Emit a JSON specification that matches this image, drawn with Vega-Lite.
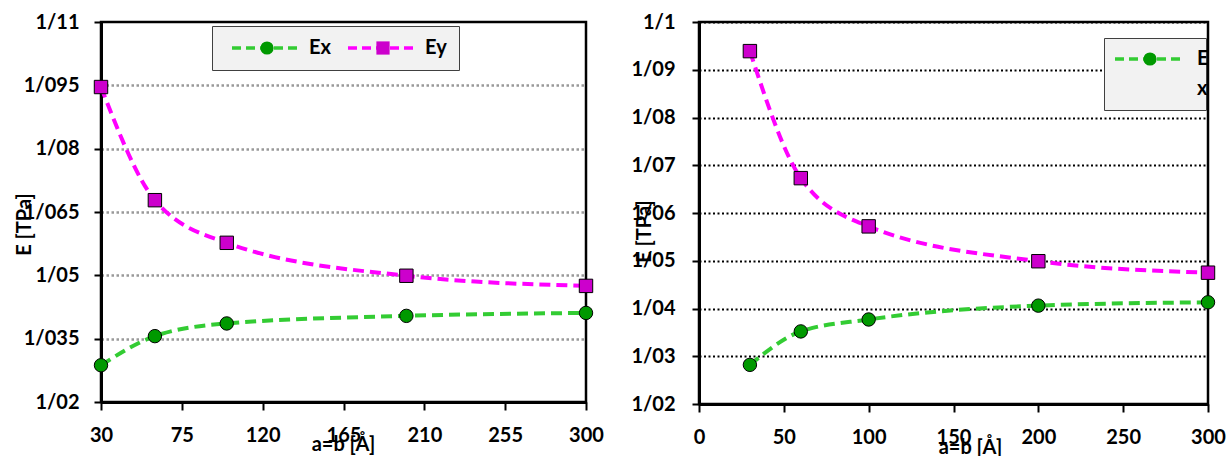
{
  "$schema": "https://vega.github.io/schema/vega-lite/v6.json",
  "padding": {"left": 12, "top": 10, "right": 5, "bottom": 0},
  "autosize": {"type": "pad"},
  "bounds": "flush",
  "spacing": 113,
  "resolve": {
    "scale": {"stroke": "independent", "fill": "independent", "shape": "independent"},
    "legend": {"stroke": "independent", "fill": "independent", "shape": "independent"}
  },
  "datasets": {
    "left": [
      {"a": 30, "E": 1.0287, "series": "Ex"},
      {"a": 60, "E": 1.0356, "series": "Ex"},
      {"a": 100, "E": 1.0386, "series": "Ex"},
      {"a": 200, "E": 1.0404, "series": "Ex"},
      {"a": 300, "E": 1.0411, "series": "Ex"},
      {"a": 30, "E": 1.0946, "series": "Ey"},
      {"a": 60, "E": 1.0678, "series": "Ey"},
      {"a": 100, "E": 1.0577, "series": "Ey"},
      {"a": 200, "E": 1.0499, "series": "Ey"},
      {"a": 300, "E": 1.0475, "series": "Ey"}
    ],
    "right": [
      {"a": 30, "E": 1.0282, "series": "Ex"},
      {"a": 60, "E": 1.0352, "series": "Ex"},
      {"a": 100, "E": 1.0377, "series": "Ex"},
      {"a": 200, "E": 1.0406, "series": "Ex"},
      {"a": 300, "E": 1.0413, "series": "Ex"},
      {"a": 30, "E": 1.0939, "series": "Ey"},
      {"a": 60, "E": 1.0673, "series": "Ey"},
      {"a": 100, "E": 1.0572, "series": "Ey"},
      {"a": 200, "E": 1.0499, "series": "Ey"},
      {"a": 300, "E": 1.0475, "series": "Ey"}
    ]
  },
  "hconcat": [
    {
      "width": 485,
      "height": 380,
      "data": {"name": "left"},
      "layer": [
        {
          "mark": {"type": "line", "interpolate": "monotone", "strokeDash": [11, 6], "strokeWidth": 4},
          "encoding": {
            "x": {
              "field": "a", "type": "quantitative",
              "scale": {"domain": [30, 300], "nice": false, "zero": false},
              "axis": {
                "title": "a=b [Å]", "values": [30, 75, 120, 165, 210, 255, 300],
                "grid": false, "tickSize": 8, "labelPadding": 15, "labelFlush": false, "labelOverlap": false,
                "titleX": 242, "titleY": 42, "titleBaseline": "middle", "titleAlign": "center"
              }
            },
            "y": {
              "field": "E", "type": "quantitative",
              "scale": {"domain": [1.02, 1.11], "nice": false, "zero": false},
              "axis": {
                "title": "E [TPa]", "values": [1.02, 1.035, 1.05, 1.065, 1.08, 1.095, 1.11],
                "labelExpr": "replace(toString(datum.value), '.', '/')",
                "tickSize": 7, "labelPadding": 15, "labelOverlap": false, "labelFlush": false,
                "grid": true, "gridColor": "#999999", "gridDash": [2.5, 2.5], "gridWidth": 2.5,
                "gridOpacity": {"condition": {"test": "datum.value < 1.021 || datum.value > 1.109", "value": 0}, "value": 1},
                "titleX": -77, "titleY": 202, "titleAngle": 270, "titleBaseline": "middle", "titleAlign": "center"
              }
            },
            "stroke": {
              "field": "series", "type": "nominal",
              "scale": {"domain": ["Ex", "Ey"], "range": ["#33cc33", "#ff00ff"]},
              "legend": {
                "title": null, "orient": "none", "legendX": 111, "legendY": 4, "direction": "horizontal",
                "fillColor": "#f2f2f2", "strokeColor": "#404040", "padding": 12,
                "symbolType": "M-5,0H5", "symbolSize": 196, "symbolStrokeWidth": 3.5, "symbolDash": [9, 5],
                "symbolOffset": 33, "labelOffset": 32, "columnPadding": 9, "labelOpacity": 0, "zindex": 1
              }
            }
          }
        },
        {
          "mark": {"type": "point", "filled": true, "stroke": "black", "strokeWidth": 1, "size": 180, "opacity": 1},
          "encoding": {
            "x": {"field": "a", "type": "quantitative"},
            "y": {"field": "E", "type": "quantitative"},
            "fill": {
              "field": "series", "type": "nominal",
              "scale": {"range": ["#009900", "#cc00cc"]},
              "legend": {
                "title": null, "orient": "none", "legendX": 111, "legendY": 4, "direction": "horizontal",
                "padding": 12, "symbolSize": 175, "symbolStrokeColor": "black", "symbolStrokeWidth": 1,
                "symbolOffset": 33, "labelOffset": 32, "columnPadding": 9, "zindex": 2
              }
            },
            "shape": {
              "field": "series", "type": "nominal",
              "scale": {"range": ["circle", "square"]},
              "legend": {
                "title": null, "orient": "none", "legendX": 111, "legendY": 4, "direction": "horizontal",
                "padding": 12, "symbolSize": 175, "symbolStrokeColor": "black", "symbolStrokeWidth": 1,
                "symbolOffset": 33, "labelOffset": 32, "columnPadding": 9, "zindex": 2
              }
            }
          }
        }
      ]
    },
    {
      "width": 509,
      "height": 382,
      "data": {"name": "right"},
      "layer": [
        {
          "mark": {"type": "line", "interpolate": "monotone", "strokeDash": [11, 6], "strokeWidth": 4},
          "encoding": {
            "x": {
              "field": "a", "type": "quantitative",
              "scale": {"domain": [0, 300], "nice": false},
              "axis": {
                "title": "a=b [Å]", "values": [0, 50, 100, 150, 200, 250, 300],
                "grid": false, "tickSize": 8, "labelPadding": 15, "labelFlush": false, "labelOverlap": false,
                "titleX": 271, "titleY": 43, "titleBaseline": "middle", "titleAlign": "center"
              }
            },
            "y": {
              "field": "E", "type": "quantitative",
              "scale": {"domain": [1.02, 1.1], "nice": false, "zero": false},
              "axis": {
                "title": "E [TPa]", "values": [1.02, 1.03, 1.04, 1.05, 1.06, 1.07, 1.08, 1.09, 1.1],
                "labelExpr": "replace(toString(datum.value), '.', '/')",
                "tickSize": 7, "labelPadding": 17, "labelOverlap": false, "labelFlush": false,
                "grid": true, "gridColor": "black", "gridDash": [2, 2.5], "gridWidth": 2.2,
                "titleX": -55, "titleY": 209, "titleAngle": 270, "titleBaseline": "middle", "titleAlign": "center"
              }
            },
            "stroke": {
              "field": "series", "type": "nominal",
              "scale": {"domain": ["Ex", "Ey"], "range": ["#33cc33", "#ff00ff"]},
              "legend": {
                "title": null, "orient": "none", "legendX": 405, "legendY": 16, "direction": "horizontal",
                "values": ["Ex"],
                "fillColor": "#f2f2f2", "strokeColor": "#404040", "padding": 11,
                "symbolType": "M-5,0H5", "symbolSize": 196, "symbolStrokeWidth": 3.5, "symbolDash": [9, 5],
                "symbolOffset": 25, "labelOffset": 35, "labelExpr": "['', '']", "zindex": 1
              }
            }
          }
        },
        {
          "mark": {"type": "point", "filled": true, "stroke": "black", "strokeWidth": 1, "size": 180, "opacity": 1},
          "encoding": {
            "x": {"field": "a", "type": "quantitative"},
            "y": {"field": "E", "type": "quantitative"},
            "fill": {
              "field": "series", "type": "nominal",
              "scale": {"range": ["#009900", "#cc00cc"]},
              "legend": {
                "title": null, "orient": "none", "legendX": 405, "legendY": 16, "direction": "horizontal",
                "values": ["Ex"], "padding": 11, "symbolSize": 175, "symbolStrokeColor": "black", "symbolStrokeWidth": 1,
                "symbolOffset": 25, "labelOffset": 37, "labelExpr": "['E', 'x']", "zindex": 2
              }
            },
            "shape": {
              "field": "series", "type": "nominal",
              "scale": {"range": ["circle", "square"]},
              "legend": {
                "title": null, "orient": "none", "legendX": 405, "legendY": 16, "direction": "horizontal",
                "values": ["Ex"], "padding": 11, "symbolSize": 175, "symbolStrokeColor": "black", "symbolStrokeWidth": 1,
                "symbolOffset": 25, "labelOffset": 37, "labelExpr": "['E', 'x']", "zindex": 2
              }
            }
          }
        }
      ]
    }
  ],
  "config": {
    "view": {"stroke": "black", "strokeWidth": 2.5},
    "style": {"guide-label": {"lineHeight": 30}},
    "axis": {
      "labelFont": "Lato", "labelFontSize": 20, "labelFontWeight": "bold", "labelColor": "black",
      "titleFont": "Lato", "titleFontSize": 20, "titleFontWeight": "bold", "titleColor": "black",
      "domainColor": "black", "domainWidth": 3, "tickColor": "black", "tickWidth": 2
    },
    "legend": {
      "labelFont": "Lato", "labelFontSize": 20, "labelFontWeight": "bold", "labelColor": "black"
    }
  }
}
